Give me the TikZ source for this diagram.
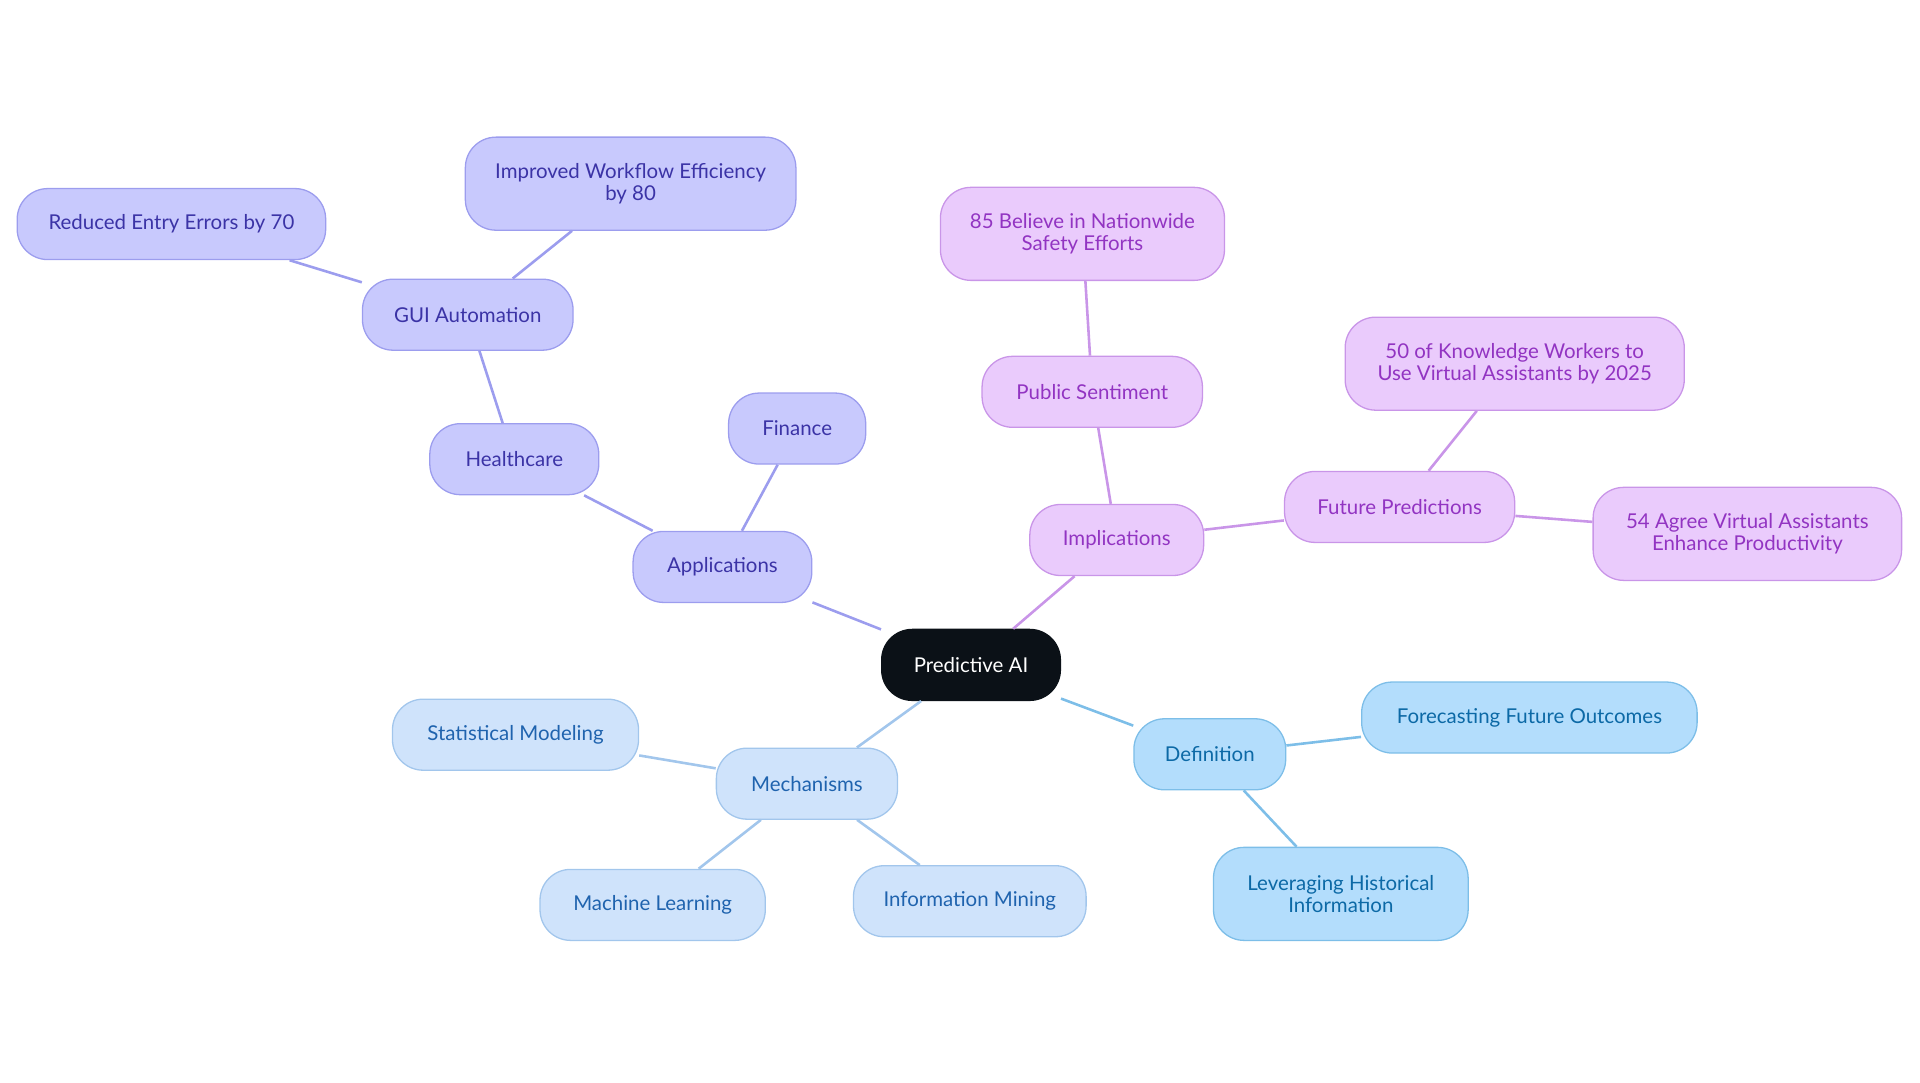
\documentclass[tikz,border=0pt]{standalone}
\usepackage{fontspec}
\setmainfont{Lato}
\usetikzlibrary{positioning}
\definecolor{rootfill}{HTML}{0B1117}
\definecolor{appfill}{HTML}{C8C9FD}\definecolor{appline}{HTML}{9C9DEE}\definecolor{apptext}{HTML}{3B33A6}
\definecolor{impfill}{HTML}{EACBFC}\definecolor{impline}{HTML}{C995E8}\definecolor{imptext}{HTML}{9234C2}
\definecolor{deffill}{HTML}{B3DDFC}\definecolor{defline}{HTML}{7DBEE8}\definecolor{deftext}{HTML}{0C69A6}
\definecolor{mecfill}{HTML}{CFE3FB}\definecolor{mecline}{HTML}{A2C6EC}\definecolor{mectext}{HTML}{1F63AE}
\tikzset{
  box/.style={draw, rounded corners=0.5cm, align=center, minimum height=1.16cm,
    inner sep=2pt, font=\fontsize{9.5}{10}\selectfont, line width=0.6pt},
  app/.style={box, fill=appfill, draw=appline, text=apptext},
  imp/.style={box, fill=impfill, draw=impline, text=imptext},
  def/.style={box, fill=deffill, draw=defline, text=deftext},
  mec/.style={box, fill=mecfill, draw=mecline, text=mectext},
  tall/.style={minimum height=1.52cm},
}
\begin{document}
\begin{tikzpicture}[x=0.02cm,y=-0.02cm]
      \useasboundingbox (0,0) rectangle (1568,884);
      \node[box, fill=rootfill, draw=rootfill, text=white, minimum width=2.92cm] (root) at (793,543) {Predictive AI};

      \node[app, minimum width=2.92cm] (apps) at (590,463) {Applications};
      \node[app, minimum width=2.24cm] (fin) at (651,350) {Finance};
      \node[app, minimum width=2.76cm] (hc) at (420,375) {Healthcare};
      \node[app, minimum width=3.44cm] (gui) at (382,257) {GUI Automation};
      \node[app, minimum width=5.04cm] (err) at (140,183) {Reduced Entry Errors by 70};
      \node[app, tall, minimum width=5.4cm] (wf) at (515,150) {Improved Workflow Efficiency\\by 80};

      \node[imp, minimum width=2.84cm] (impl) at (912,441) {Implications};
      \node[imp, minimum width=3.6cm] (pub) at (892,320) {Public Sentiment};
      \node[imp, tall, minimum width=4.64cm] (nat) at (884,191) {85 Believe in Nationwide\\Safety Efforts};
      \node[imp, minimum width=3.76cm] (fut) at (1143,414) {Future Predictions};
      \node[imp, tall, minimum width=5.54cm] (kw) at (1237,297) {50 of Knowledge Workers to\\Use Virtual Assistants by 2025};
      \node[imp, tall, minimum width=5.04cm] (agr) at (1427,436) {54 Agree Virtual Assistants\\Enhance Productivity};

      \node[def, minimum width=2.48cm] (defn) at (988,616) {Definition};
      \node[def, minimum width=5.48cm] (fc) at (1249,586) {Forecasting Future Outcomes};
      \node[def, tall, minimum width=4.16cm] (hist) at (1095,730) {Leveraging Historical\\Information};

      \node[mec, minimum width=2.96cm] (mech) at (659,640) {Mechanisms};
      \node[mec, minimum width=4.02cm] (stat) at (421,600) {Statistical Modeling};
      \node[mec, minimum width=3.68cm] (ml) at (533,739) {Machine Learning};
      \node[mec, minimum width=3.8cm] (mine) at (792,736) {Information Mining};

      \begin{scope}[on background layer/.style={}, line width=1.2pt]
        \draw[appline] (root) -- (apps) (apps) -- (fin) (apps) -- (hc)
              (hc) -- (gui) (gui) -- (err) (gui) -- (wf);
        \draw[impline] (root) -- (impl) (impl) -- (pub) (pub) -- (nat)
              (impl) -- (fut) (fut) -- (kw) (fut) -- (agr);
        \draw[defline] (root) -- (defn) (defn) -- (fc) (defn) -- (hist);
        \draw[mecline] (root) -- (mech) (mech) -- (stat) (mech) -- (ml) (mech) -- (mine);
      \end{scope}
    \end{tikzpicture}
\end{document}
